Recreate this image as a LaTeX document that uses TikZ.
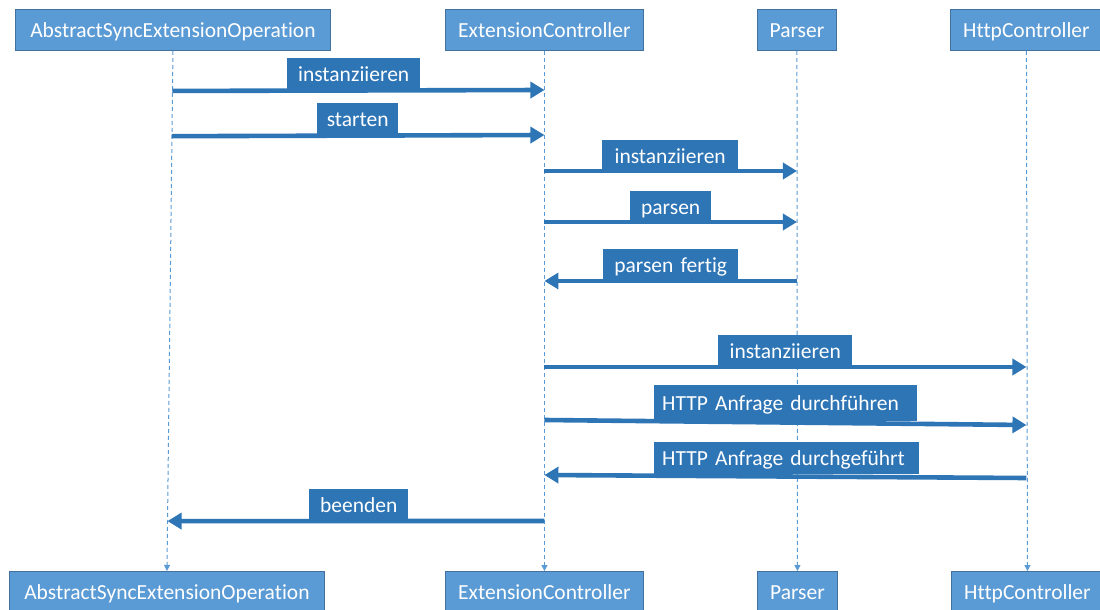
\documentclass[tikz,border=0pt]{standalone}
\usepackage{fontspec}
\setmainfont{Carlito}[Ligatures=CommonOff]
\usetikzlibrary{arrows.meta,calc}
\definecolor{headblue}{HTML}{5B9BD5}
\definecolor{headedge}{HTML}{41719C}
\definecolor{msgblue}{HTML}{2E75B6}
\definecolor{lifeblue}{HTML}{5B9BD5}
\tikzset{
  txt/.style={font=\fontsize{21.5}{24}\selectfont, text height=18pt, text depth=3pt},
  head/.style={txt, fill=headblue, draw=headedge, line width=0.9pt, text=white,
    minimum height=41, inner sep=0pt, anchor=north west},
  lifeline/.style={draw=lifeblue, line width=1pt, dash pattern=on 4pt off 3pt,
    -{Triangle[length=6pt,width=6pt]}},
  msg/.style={draw=msgblue, line width=4.6pt, -{Triangle[length=14pt,width=16pt]}},
  lbl/.style={txt, fill=msgblue, text=white, inner ysep=0pt, inner xsep=8pt,
    minimum height=32, anchor=south west},
}
\begin{document}
\begin{tikzpicture}[x=1pt,y=-1pt]
\useasboundingbox (0,0) rectangle (1100,610);
\clip (0,0) rectangle (1100,610);
\fill[white] (0,0) rectangle (1100,610);

% participants, top row
\node[head, minimum width=315] (tA) at (15,9) {AbstractSyncExtensionOperation};
\node[head, minimum width=198] (tE) at (445,9) {ExtensionController};
\node[head, minimum width=79]  (tP) at (757,9) {Parser};
\node[head, minimum width=152] (tH) at (950,9) {HttpController};

% participants, bottom row
\node[head, minimum width=315] (bA) at (9,571) {AbstractSyncExtensionOperation};
\node[head, minimum width=198] (bE) at (445,571) {ExtensionController};
\node[head, minimum width=80]  (bP) at (757,571) {Parser};
\node[head, minimum width=152] (bH) at (951,571) {HttpController};

% lifelines
\draw[lifeline] (tA.south) -- (bA.north);
\draw[lifeline] (tE.south) -- (bE.north);
\draw[lifeline] (tP.south) -- (bP.north);
\draw[lifeline] (tH.south) -- (bH.north);

% points on the slanted lifeline of the operation
\path (tA.south) -- (bA.north)
  coordinate[pos=0.077] (a1)
  coordinate[pos=0.164] (a2)
  coordinate[pos=0.904] (a3);

% messages
\draw[msg] (a1) -- (tE.south |- 0,90);
\draw[msg] (a2) -- (tE.south |- 0,135);
\draw[msg] (tE.south |- 0,171) -- (tP.south |- 0,171);
\draw[msg] (tE.south |- 0,222) -- (tP.south |- 0,222);
\draw[msg] (tP.south |- 0,281) -- (tE.south |- 0,281);
\draw[msg] (tE.south |- 0,367) -- (tH.south |- 0,367);
\draw[msg] (tE.south |- 0,420) -- (tH.south |- 0,425);
\draw[msg] (tH.south |- 0,478) -- (tE.south |- 0,475);
\draw[msg] (tE.south |- 0,521) -- (a3);

% message labels
\node[lbl, text width=117, align=center] (l1) at (287,90)  {instanziieren};
\node[lbl, text width=65,  align=center] (l2) at (317,135) {starten};
\node[lbl, text width=120, align=center] (l3) at (602,172) {instanziieren};
\node[lbl, text width=65,  align=center] (l4) at (630,223) {parsen};
\node[lbl, text width=119, align=center] (l5) at (603,281) {parsen fertig};
\node[lbl, text width=118, align=center] (l6) at (718,367) {instanziieren};
\node[lbl, text width=247, align=left, minimum height=36] (l7) at (654,421) {HTTP Anfrage durchführen};
\node[lbl, text width=249, align=left] (l8) at (654,474) {HTTP Anfrage durchgeführt};
\node[lbl, text width=83,  align=center] (l9) at (309,521) {beenden};
\end{tikzpicture}
\end{document}
